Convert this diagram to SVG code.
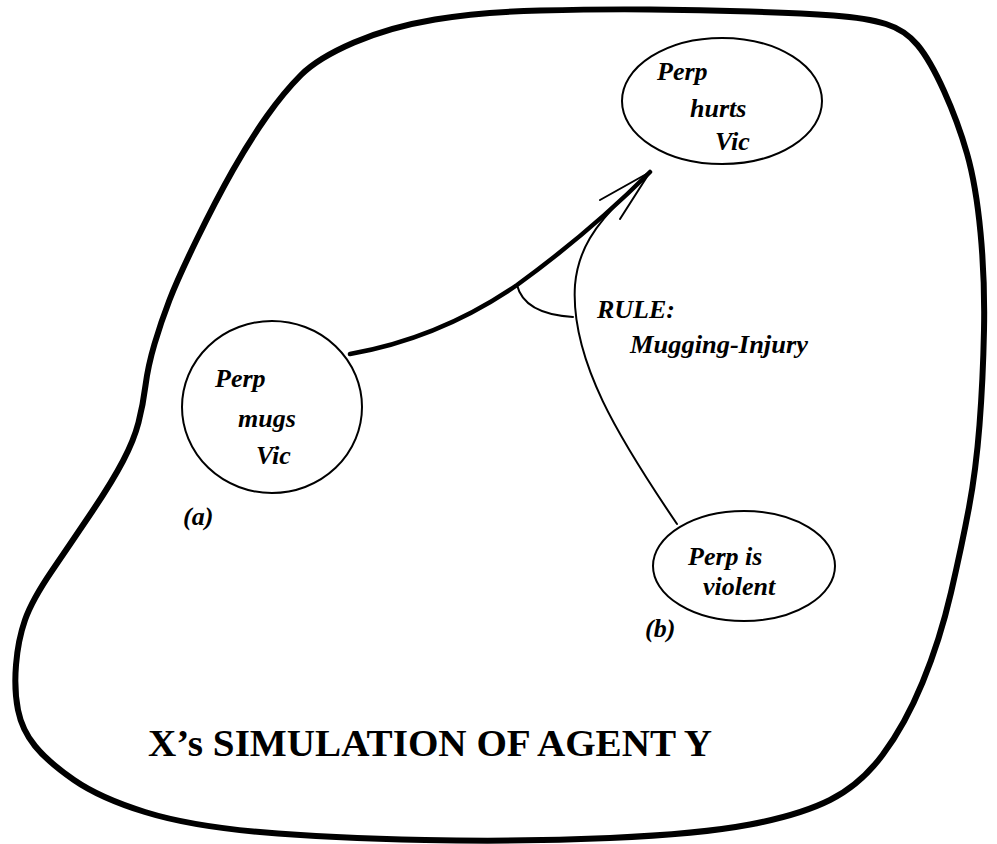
<svg xmlns="http://www.w3.org/2000/svg" width="997" height="844" viewBox="0 0 997 844">
<defs>
<style>
.bg{fill:#fff}
.blob{fill:none;stroke:#000;stroke-width:6;stroke-linejoin:round}
.node{fill:#fff;stroke:#000;stroke-width:2}
.t{font-family:"Liberation Serif","Times New Roman",serif;font-weight:bold;font-style:italic;font-size:26px;fill:#000}
.title{font-family:"Liberation Serif","Times New Roman",serif;font-weight:bold;font-size:38px;fill:#000}
.thick{fill:none;stroke:#000;stroke-width:4.5;stroke-linecap:round}
.thin{fill:none;stroke:#000;stroke-width:2;stroke-linecap:round;stroke-linejoin:round}
</style>
</defs>
<rect class="bg" x="0" y="0" width="997" height="844"/>
<g id="boundary">
<path class="blob" d="M435,19.5 Q480,12 540,10.5 Q600,9 650,9.5 Q700,10 750,11.5 Q800,13 833.5,15.5 Q867,18 886,24 Q905,30 917.5,45 Q930,60 944,91 Q958,122 967,153.5 Q976,185 980.5,232.5 Q985,280 984,330 Q983,380 979.5,425 Q976,470 969,507.5 Q962,545 951,592.5 Q940,640 922.5,682.5 Q905,725 882.5,755 Q860,785 830,800 Q800,815 750,824.5 Q700,834 610,838 Q520,842 425,840 Q330,838 260,832 Q190,826 145,812 Q100,798 74,780 Q48,762 35,746 Q22,730 18,710 Q14,690 16,665 Q18,640 25,620 Q32,600 52.5,570 Q73,540 92.5,511 Q112,482 123,461 Q134,440 138.5,422.5 Q143,405 145.5,385.5 Q148,366 154.5,344 Q161,322 169.5,300 Q178,278 197,239 Q216,200 233,170 Q250,140 267,116 Q284,92 301,75 Q318,58 354,42.5 Q390,27 435,19.5 Z"/>
<text class="title" x="148" y="756" textLength="564" lengthAdjust="spacingAndGlyphs">X’s SIMULATION OF AGENT Y</text>
</g>
<g id="connectors">
<path id="arrow-a" class="thick" d="M350,354 Q440,338 517,285 Q590,232 650,172"/>
<path id="arrowhead" class="thin" d="M600,200 L650,172 L620,219"/>
<path id="rule-link" class="thin" d="M677,524 C620,440 570,360 575,285 C578,250 595,225 625,196"/>
<path id="rule-arc" class="thin" d="M517,285 Q524,314 573,317"/>
<text class="t" x="597" y="318">RULE:</text>
<text class="t" x="630" y="353" font-size="27" textLength="178" lengthAdjust="spacingAndGlyphs">Mugging-Injury</text>
</g>
<g id="node-a">
<ellipse class="node" cx="272" cy="407" rx="90" ry="86"/>
<text class="t" x="215" y="387">Perp</text>
<text class="t" x="238" y="427">mugs</text>
<text class="t" x="256" y="464">Vic</text>
<text class="t" x="183" y="525">(a)</text>
</g>
<g id="node-hurts">
<ellipse class="node" cx="722" cy="101" rx="100" ry="63"/>
<text class="t" x="657" y="80">Perp</text>
<text class="t" x="690" y="117">hurts</text>
<text class="t" x="715" y="150">Vic</text>
</g>
<g id="node-b">
<ellipse class="node" cx="744" cy="566" rx="91" ry="55"/>
<text class="t" x="688" y="565">Perp is</text>
<text class="t" x="703" y="595">violent</text>
<text class="t" x="645" y="637">(b)</text>
</g>
</svg>
